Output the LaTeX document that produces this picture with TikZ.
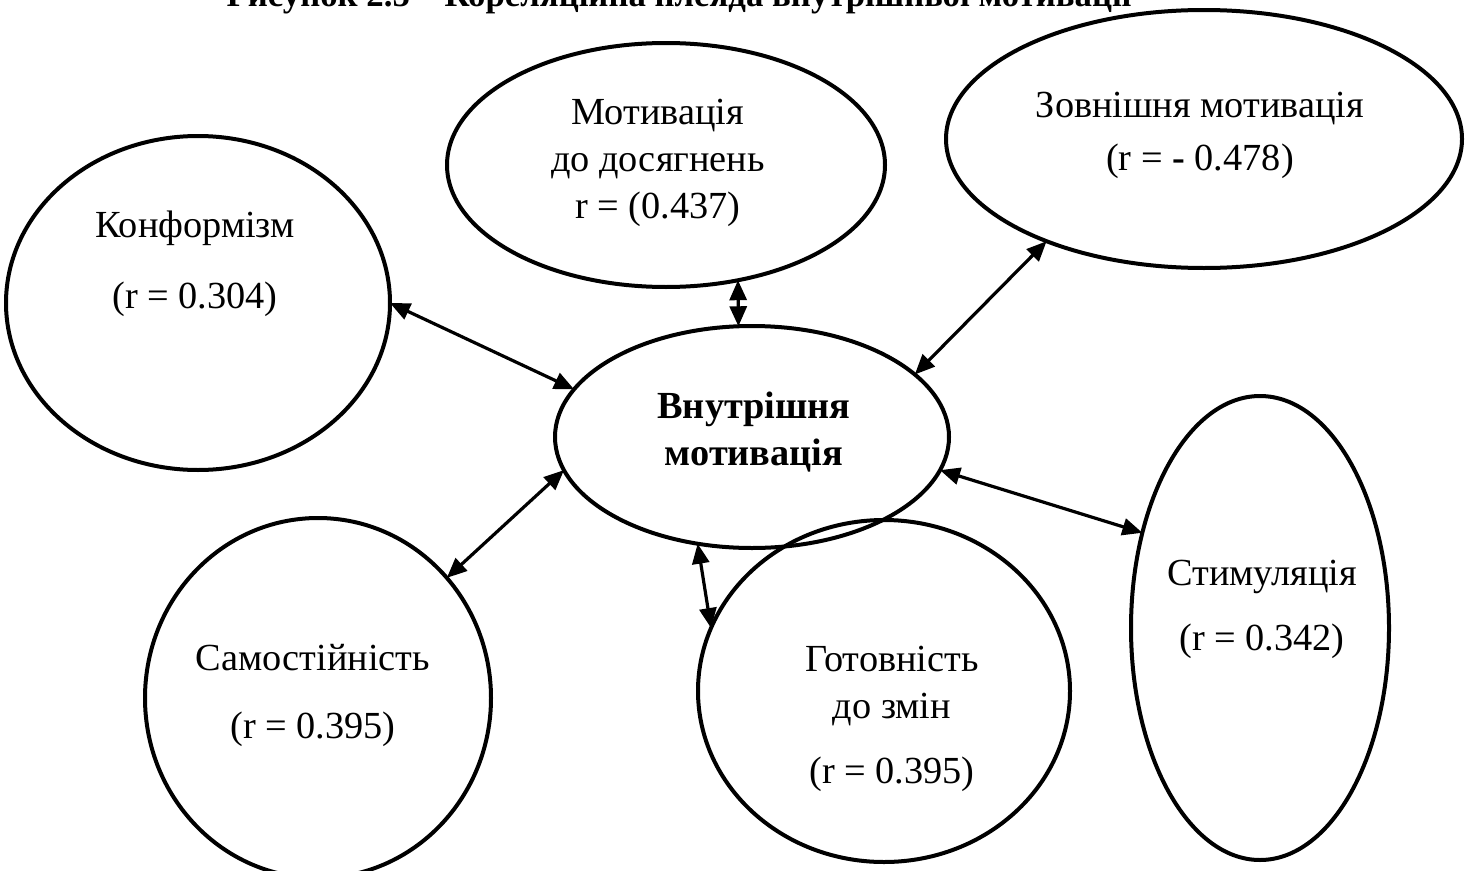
\documentclass[tikz,border=0pt]{standalone}
\usepackage{fontspec}
\setmainfont{Liberation Serif}
\usetikzlibrary{shapes.geometric,arrows.meta}
\tikzset{
  oval/.style={draw, ellipse, line width=0.4mm, inner sep=0pt, outer sep=0pt},
  lbl/.style={align=center, anchor=base, inner sep=0pt},
  link/.style={{Triangle[length=2mm,width=1.7mm]}-{Triangle[length=2mm,width=1.7mm]}, line width=0.32mm},
}
\begin{document}
\begin{tikzpicture}[x=0.1mm, y=-0.1mm, font=\fontsize{10.9}{13.3}\selectfont]
\useasboundingbox (0,0) rectangle (1465,871);
\clip (0,0) rectangle (1465,871);
% caption, cut by the top edge
\node[lbl, font=\fontsize{9.9}{12}\selectfont\bfseries] (title) at (679,7) {Рисунок 2.5 – Кореляційна плеяда внутрішньої мотивації};
% ovals
\node[oval, minimum width=38.4mm, minimum height=33.4mm] (konf) at (198,303) {};
\node[oval, minimum width=43.8mm, minimum height=24.4mm] (motiv) at (666,165) {};
\node[oval, minimum width=51.6mm, minimum height=25.8mm] (zovn) at (1204,139) {};
\node[oval, minimum width=39.4mm, minimum height=22.2mm] (vnutr) at (752,437) {};
\node[oval, minimum width=25.8mm, minimum height=46.4mm] (stym) at (1260,628) {};
\node[oval, minimum width=34.6mm, minimum height=36.0mm] (samo) at (318,698) {};
\node[oval, minimum width=37.2mm, minimum height=34.2mm] (hotov) at (884,691) {};
% texts (anchored at the last line)
\node[lbl] (konf-t) at (195,308) {Конформізм\\[2.4mm](r = 0.304)};
\node[lbl] (motiv-t) at (658,218) {Мотивація\\до досягнень\\r = (0.437)};
\node[lbl] (zovn-t) at (1200,170) {Зовнішня мотивація\\[0.6mm](r = \textbf{-} 0.478)};
\node[lbl, font=\fontsize{10.9}{13.3}\selectfont\bfseries] (vnutr-t) at (754,465) {Внутрішня\\мотивація};
\node[lbl] (stym-t) at (1262,650) {Стимуляція\\[1.8mm](r = 0.342)};
\node[lbl] (samo-t) at (313,738) {Самостійність\\[2.1mm](r = 0.395)};
\node[lbl] (hotov-t) at (892,783) {Готовність\\до змін\\[1.8mm](r = 0.395)};
% links
\draw[link] (konf.east) -- (vnutr.165);
\draw[link] (motiv.-58) -- (vnutr.97);
\draw[link] (zovn.-147) -- (vnutr.21);
\draw[link] (samo.43) -- (vnutr.-170);
\draw[link] (hotov.160) -- (vnutr.-117);
\draw[link] (stym.141) -- (vnutr.-10);
\end{tikzpicture}
\end{document}
